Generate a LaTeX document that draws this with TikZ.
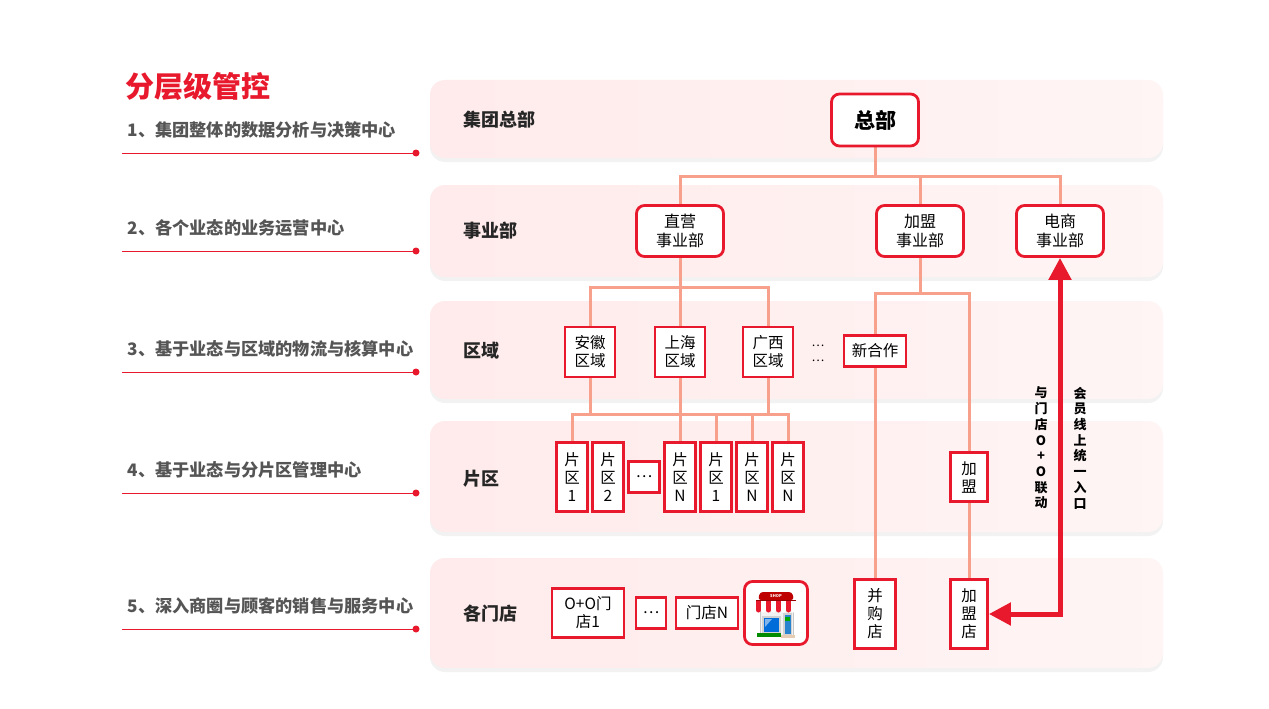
\documentclass[tikz,border=0pt]{standalone}
\usepackage{fontspec}
\setmainfont{Noto Sans CJK SC}
\usetikzlibrary{arrows.meta,shadows}
\definecolor{hred}{HTML}{E8192C}
\definecolor{lnk}{HTML}{F7A08B}
\definecolor{graytxt}{HTML}{555555}
\pgfdeclarelayer{bg}
\pgfdeclarelayer{mid}
\pgfsetlayers{bg,mid,main}

\begin{document}
\begin{tikzpicture}[x=1pt,y=-1pt,
    band/.style={left color=red!8!white,right color=red!4!white,rounded corners=15pt,
      drop shadow={opacity=0.10,shadow xshift=0pt,shadow yshift=-4pt}},
    hbox/.style={draw=hred,line width=2.8pt,fill=white,inner sep=0pt,align=center,
      font=\fontsize{15.5}{18}\selectfont},
    rbox/.style={hbox,rounded corners=8pt,minimum width=87pt,minimum height=51pt,
      font=\fontsize{16}{19}\selectfont},
    branch/.style={draw=lnk,line width=3pt},
    lvl/.style={font=\fontsize{18}{20}\selectfont\bfseries,text=black!85,anchor=west},
    note/.style={font=\fontsize{17.2}{20}\selectfont\bfseries,text=graytxt,anchor=west},
    vtxt/.style={font=\fontsize{13}{15.7}\selectfont\bfseries,align=center,inner sep=0pt},
    >={Triangle[width=22pt,length=22pt]}]
  \useasboundingbox (0,0) rectangle (1269,709);
  \begin{pgfonlayer}{bg}
    \fill[white] (0,0) rectangle (1269,709);
    \foreach \a/\b in {80/158,185/277,301/399,421/532,558/668}
      {\path[band] (430,\a) rectangle (1163,\b);}
  \end{pgfonlayer}
  % left column
  \node[font=\fontsize{29}{32}\selectfont\bfseries,text=hred,anchor=west] (title) at (122,87) {分层级管控};
  \foreach \i/\y/\lab in {1/130/1、集团整体的数据分析与决策中心,2/228/2、各个业态的业务运营中心,
      3/349/3、基于业态与区域的物流与核算中心,4/470/4、基于业态与分片区管理中心,
      5/606/5、深入商圈与顾客的销售与服务中心}
    {\node[note] (n\i) at (124,\y) {\lab};
     \draw[hred,line width=1pt] (122,\y+23) -- (416,\y+23);
     \fill[hred] (416,\y+23) circle (3.5pt);}
  \foreach \i/\y/\lab in {1/120/集团总部,2/231/事业部,3/351/区域,4/479/片区,5/614/各门店}
    {\node[lvl] (b\i) at (460,\y) {\lab};}
  % tree
  \node[rbox,minimum height=52pt,font=\fontsize{21}{24}\selectfont\bfseries] (zb) at (875,120) {总部};
  \node[rbox] (zy) at (680,231) {直营\\事业部};
  \node[rbox] (jm) at (920,231) {加盟\\事业部};
  \node[rbox] (ds) at (1060,231) {电商\\事业部};
  \node[hbox,minimum size=50pt] (ah) at (590,352) {安徽\\区域};
  \node[hbox,minimum size=50pt] (sh) at (680,352) {上海\\区域};
  \node[hbox,minimum size=50pt] (gx) at (768,352) {广西\\区域};
  \node[font=\fontsize{12}{15}\selectfont,align=center,inner sep=0pt] (rdots) at (818,353) {…\\…};
  \node[hbox,minimum width=62pt,minimum height=31pt] (xhz) at (875,351) {新合作};
  \foreach \x/\n/\lab in {572/pa/1,608/pb/2,680/pc/N,716/pd/1,752/pe/N,788/pf/N}
    {\node[hbox,minimum width=31pt,minimum height=69pt] (\n) at (\x,477) {片\\区\\\lab};}
  \node[hbox,minimum size=31pt] (pdots) at (644,477) {…};
  \node[hbox,minimum width=37pt,minimum height=49pt] (jmq) at (969,477) {加\\盟};
  \node[hbox,minimum width=72pt,minimum height=49pt] (oo) at (588,613) {O+O门\\店1};
  \node[hbox,minimum width=30pt,minimum height=31pt] (sdots) at (651,613) {…};
  \node[hbox,minimum width=62pt,minimum height=31pt] (mdn) at (707,613) {门店N};
  \node[hbox,rounded corners=8pt,minimum size=63pt] (shop) at (776,613) {};
  \node[hbox,minimum width=41pt,minimum height=69pt] (bgd) at (875,614) {并\\购\\店};
  \node[hbox,minimum width=37pt,minimum height=69pt] (jmd) at (969,614) {加\\盟\\店};
  \begin{pgfonlayer}{mid}
    \coordinate (t1) at (875,176);
    \coordinate (t2) at (680,287);
    \coordinate (t3) at (920,293);
    \coordinate (t4) at (680,414);
    \draw[branch] (zb.south) -- (t1);
    \foreach \n in {zy,jm,ds}
      {\draw[branch] (t1) -| (\n.north);}
    \draw[branch] (zy.south) -- (sh.north);
    \foreach \n in {ah,gx}
      {\draw[branch] (t2) -| (\n.north);
       \draw[branch] (\n.south) |- (t4);}
    \draw[branch] (sh.south) -- (pc.north);
    \foreach \n in {pa,pd,pe,pf}
      {\draw[branch] (t4) -| (\n.north);}
    \draw[branch] (jm.south) -- (t3);
    \draw[branch] (t3) -| (xhz.north);
    \draw[branch] (t3) -| (jmq.north);
    \draw[branch] (xhz.south) -- (bgd.north);
    \draw[branch] (jmq.south) -- (jmd.north);
  \end{pgfonlayer}
  % shop icon
  \fill[gray!10] (760,610) rectangle (793,636);
  \draw[gray!45,line width=0.5pt] (760,610) rectangle (793,636);
  \fill[gray!35] (762,616) rectangle (781,634);
  \fill[blue!50!cyan!85!black] (764,618) rectangle (779,632);
  \fill[white,opacity=0.5] (765,619) -- (772,619) -- (765,627) -- cycle;
  \fill[gray!35] (783,613) rectangle (792,636);
  \fill[cyan!60!blue!90!white] (784.5,615) rectangle (790.5,634);
  \fill[green!65!black] (785,617) rectangle (790,621);
  \fill[green!55!black] (757,633) rectangle (781,637);
  \fill[brown!40] (781,635) rectangle (795,638);
  \fill[red!75!black,rounded corners=3pt] (758,600) -- (760,592) -- (792,592) -- (794,600) -- cycle;
  \node[font=\fontsize{4}{4}\selectfont\bfseries,text=white,inner sep=0pt] (shoptxt) at (776,596) {SHOP};
  \foreach \k in {0,2,4,6}
    {\fill[hred] (756+\k*5,600) rectangle ++(5,10);
     \fill[hred] (758.5+\k*5,610) circle (2.5pt);}
  \foreach \k in {1,3,5,7}
    {\fill[white] (756+\k*5,600) rectangle ++(5,10);
     \fill[white] (758.5+\k*5,610) circle (2.5pt);}
  \draw[red!60!black,line width=0.4pt] (756,600) -- (796,600);
  % online entry
  \draw[hred,line width=5pt,<->] (ds.south) |- (jmd.east);
  \node[vtxt] (o2o) at (1041,448) {与\\门\\店\\O\\+\\O\\联\\动};
  \node[vtxt] (vip) at (1080,448) {会\\员\\线\\上\\统\\一\\入\\口};
\end{tikzpicture}
\end{document}
